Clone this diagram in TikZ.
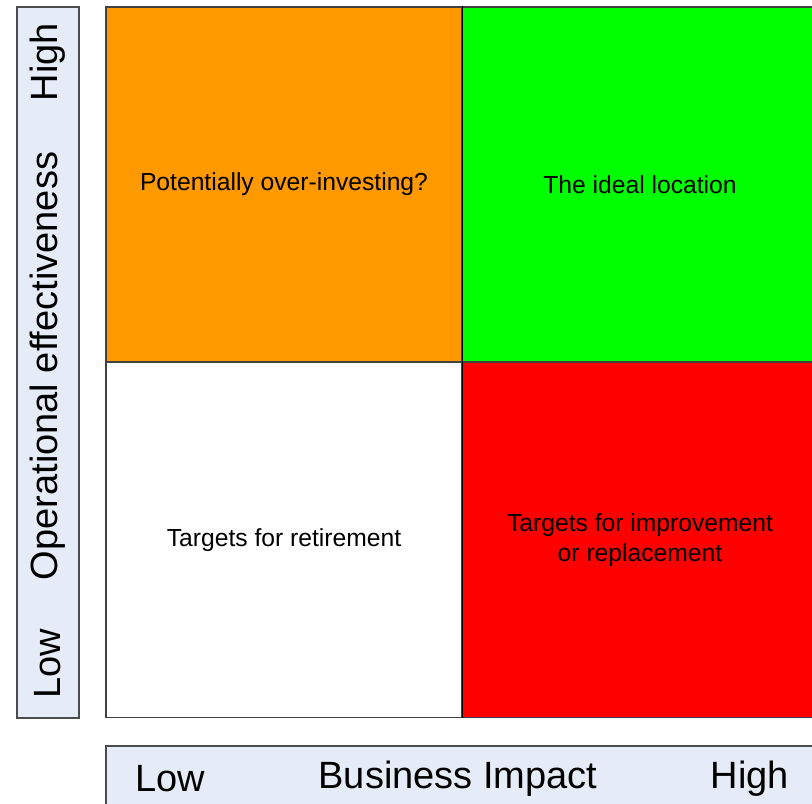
\documentclass[tikz,border=0pt]{standalone}
\usepackage{fontspec}
\setmainfont{Liberation Sans}
\usepackage{tikz}
\usetikzlibrary{positioning}
\definecolor{barblue}{HTML}{E6ECF7}
\definecolor{quadorange}{HTML}{FF9900}
\definecolor{quadgreen}{HTML}{00FF00}
\definecolor{quadred}{HTML}{FF0000}
\tikzstyle{quad}=[draw=black!75,line width=1pt,minimum width=267pt,minimum height=266.25pt,inner sep=0pt,align=center,font=\fontsize{18.5}{22}\selectfont]
\tikzstyle{axisbar}=[draw=black!70,fill=barblue,line width=1pt]
\tikzstyle{axislabel}=[font=\fontsize{28.5}{32}\selectfont,inner sep=0pt]

\begin{document}
\begin{tikzpicture}[x=0.75pt,y=-0.75pt]
\useasboundingbox (0,0) rectangle (812,803);
\clip (0,0) rectangle (812,803);
% axis bars
\draw[axisbar] (17,7) rectangle (79,718);
\draw[axisbar] (106,746) rectangle (830,820);
% the four quadrants
\node[quad,fill=quadorange] (ol) at (284,184.5) {Potentially over-investing?};
\node[quad,fill=quadgreen] (oh) at (640,184.5) {The ideal location};
\node[quad,fill=white] (ul) at (284,540) {Targets for retirement};
\node[quad,fill=quadred] (uh) at (640,540) {Targets for improvement\\or replacement};
\draw[black,line width=1.2pt] (ol.north east) -- (ul.south east);
% vertical axis
\node[axislabel,rotate=90] (yhigh) at (48,62) {High};
\node[axislabel,rotate=90] (yname) at (48,366) {Operational effectiveness};
\node[axislabel,rotate=90] (ylow) at (48,664) {Low};
% horizontal axis
\node[axislabel] (xlow) at (170,779) {Low};
\node[axislabel] (xname) at (458,779) {Business Impact};
\node[axislabel] (xhigh) at (750,779) {High};
\end{tikzpicture}
\end{document}
